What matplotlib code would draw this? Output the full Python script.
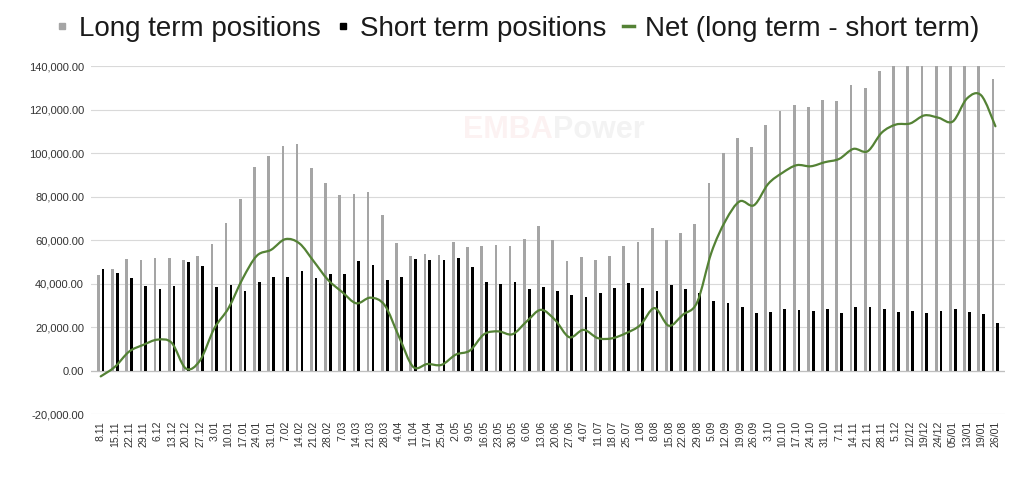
import numpy as np
import matplotlib
matplotlib.use("Agg")
import matplotlib.pyplot as plt
from matplotlib.path import Path
from matplotlib.patches import PathPatch
from matplotlib.lines import Line2D

plt.rcParams["font.family"] = ["Liberation Sans", "DejaVu Sans"]

# weekly dates as printed on the axis
dates = ["8.11", "15.11", "22.11", "29.11", "6.12", "13.12", "20.12", "27.12",
         "3.01", "10.01", "17.01", "24.01", "31.01", "7.02", "14.02", "21.02",
         "28.02", "7.03", "14.03", "21.03", "28.03", "4.04", "11.04", "17.04",
         "25.04", "2.05", "9.05", "16.05", "23.05", "30.05", "6.06", "13.06",
         "20.06", "27.06", "4.07", "11.07", "18.07", "25.07", "1.08", "8.08",
         "15.08", "22.08", "29.08", "5.09", "12.09", "19.09", "26.09", "3.10",
         "10.10", "17.10", "24.10", "31.10", "7.11", "14.11", "21.11", "28.11",
         "5.12", "12/12", "19/12", "24/12", "05/01", "13/01", "19/01", "26/01"]

long_term = [44000, 46700, 51100, 50700, 51900, 51600, 50700, 52800,
             58000, 68000, 79000, 93400, 98700, 103300, 104300, 92900,
             86300, 80700, 81100, 81900, 71500, 58500, 52800, 53700,
             53300, 58900, 56800, 57300, 57700, 57300, 60300, 66300,
             59900, 50200, 52400, 50700, 52800, 57300, 58900, 65400,
             59900, 63400, 67200, 86000, 99800, 107000, 102600, 112700,
             119400, 122300, 121300, 124300, 123900, 131100, 130000, 137900,
             140000, 141000, 143900, 143600, 143000, 152000, 152500, 134000]

short_term = [46700, 45000, 42400, 38900, 37700, 38900, 49800, 48100,
              38600, 39300, 36700, 40600, 43200, 42900, 45900, 42700,
              44600, 44600, 50200, 48400, 41500, 42900, 51100, 50700,
              50700, 51600, 47600, 40600, 39700, 40600, 37700, 38400,
              36700, 34900, 33700, 35800, 38000, 40100, 38000, 36700,
              39300, 37700, 35800, 31800, 30900, 29200, 26600, 26900,
              28500, 27900, 27400, 28500, 26600, 29200, 29200, 28500,
              26900, 27400, 26600, 27400, 28500, 26900, 26000, 21700]

net = np.array(long_term) - np.array(short_term)

GRAY = "#a5a5a5"
GREEN = "#548235"
TEXT = "#333333"


def smooth_path(x, y):
    """Catmull-Rom through the points, written as cubic Bezier segments
    (this is what Excel's 'smoothed line' looks like)."""
    pts = np.column_stack([x, y]).astype(float)
    padded = np.vstack([pts[0], pts, pts[-1]])
    verts = [pts[0]]
    codes = [Path.MOVETO]
    for i in range(1, len(padded) - 2):
        p0, p1, p2, p3 = padded[i - 1], padded[i], padded[i + 1], padded[i + 2]
        c1 = p1 + (p2 - p0) / 6.0
        c2 = p2 - (p3 - p1) / 6.0
        verts += [c1, c2, p2]
        codes += [Path.CURVE4] * 3
    return Path(verts, codes)


fig = plt.figure(figsize=(10.3, 4.84), dpi=100)
ax = fig.add_axes([0.0884, 0.1446, 0.8874, 0.7190])

x = np.arange(len(dates))
w = 0.19
ax.bar(x - 0.17, long_term, width=w, color=GRAY, zorder=2)
ax.bar(x + 0.17, short_term, width=w, color="black", zorder=3)

ax.add_patch(PathPatch(smooth_path(x, net), facecolor="none", edgecolor=GREEN,
                       lw=1.6, zorder=4, capstyle="round", joinstyle="round"))

ax.set_xlim(-0.68, 63.68)
ax.set_ylim(-20000, 140000)
ax.set_yticks(np.arange(-20000, 140001, 20000))
ax.yaxis.set_major_formatter(matplotlib.ticker.FuncFormatter(lambda v, p: f"{v:,.2f}"))
ax.set_xticks(x)
ax.set_xticklabels(dates, rotation=90)

ax.tick_params(axis="y", length=0, pad=5, labelsize=8, labelcolor=TEXT)
ax.tick_params(axis="x", length=0, pad=5, labelsize=7.6, labelcolor=TEXT)
ax.grid(axis="y", color="#d9d9d9", lw=0.8, zorder=0)
ax.set_axisbelow(True)
ax.axhline(0, color="#bfbfbf", lw=0.9, zorder=1)
for s in ax.spines.values():
    s.set_visible(False)

# faint watermark
ax.text(0.505, 0.815, "EMBA", transform=ax.transAxes, fontsize=22, fontweight="bold",
        color="#fcf2f2", ha="right", va="center", zorder=0.5,
        family=["Liberation Sans Narrow", "Liberation Sans"])
ax.text(0.505, 0.815, "Power", transform=ax.transAxes, fontsize=22, fontweight="bold",
        color="#f3f3f3", ha="left", va="center", zorder=0.5,
        family=["Liberation Sans Narrow", "Liberation Sans"])

handles = [
    Line2D([], [], marker="s", linestyle="none", markersize=5, color=GRAY),
    Line2D([], [], marker="s", linestyle="none", markersize=5, color="black"),
    Line2D([], [], color=GREEN, lw=2.5),
]
labels = ["Long term positions", "Short term positions", "Net (long term - short term)"]
fig.legend(handles, labels, loc="center", bbox_to_anchor=(0.503, 0.940), ncol=3,
           frameon=False, fontsize=20, handlelength=0.4, handletextpad=0.4,
           columnspacing=0.6, labelcolor="#1a1a1a", borderpad=0)

fig.savefig("out.png", dpi=100, facecolor="white")
